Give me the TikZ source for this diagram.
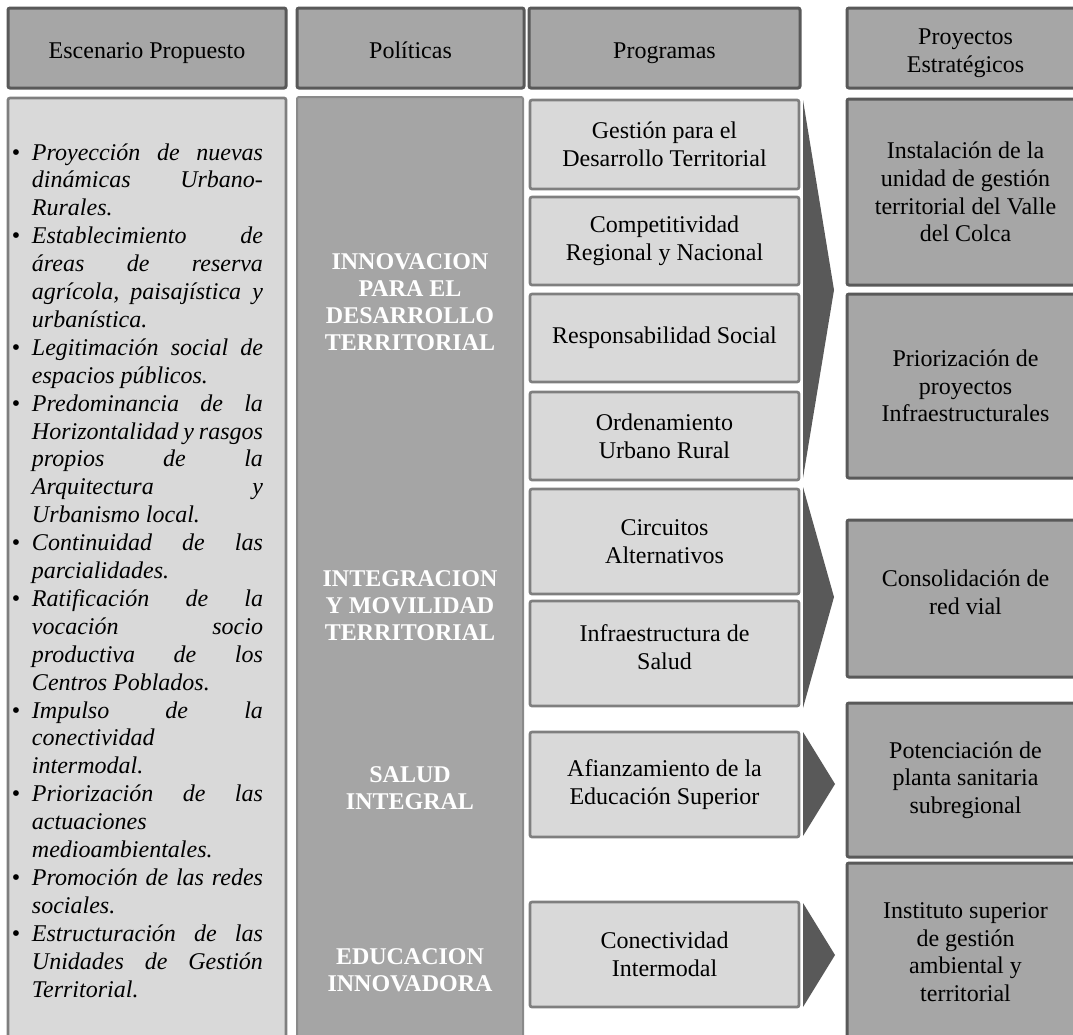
\documentclass[tikz,border=0pt]{standalone}
\usepackage{fontspec}
\setmainfont{Liberation Serif}
\definecolor{hdrfill}{HTML}{A6A6A6}
\definecolor{hdrline}{HTML}{595959}
\definecolor{lightfill}{HTML}{D9D9D9}
\definecolor{lightline}{HTML}{7F7F7F}
\definecolor{polfill}{HTML}{A5A5A5}
\definecolor{polline}{HTML}{8A8A8A}
\definecolor{chevfill}{HTML}{595959}
% one justified line of a bullet list: bullet line and continuation line
\newcommand\bulline[1]{\hbox to 251pt{\hbox to 20pt{\upshape\textbullet\hss}\hbox to 231pt{#1}}}
\newcommand\contline[1]{\hbox to 251pt{\hskip 20pt\hbox to 231pt{#1}}}
\begin{document}
\begin{tikzpicture}[x=1pt,y=-1pt,
  every node/.style={inner sep=0pt, outer sep=0pt},
  txt/.style={font=\fontsize{24pt}{27.6pt}\selectfont, align=center},
  hdr/.style={txt, draw=hdrline, fill=hdrfill, line width=3pt, rounded corners=2pt, minimum height=80pt},
  oneline/.style={text height=22.5pt, text depth=2pt},
  prog/.style={txt, draw=lightline, fill=lightfill, line width=2.7pt, rounded corners=2pt, minimum width=269pt},
  proj/.style={txt, draw=hdrline, fill=hdrfill, line width=3pt, rounded corners=2pt, minimum width=237pt},
  escbox/.style={draw=lightline, fill=lightfill, line width=2.7pt, rounded corners=2pt},
  polbox/.style={draw=polline, fill=polfill, line width=2pt, rounded corners=2pt},
  poltxt/.style={txt, text=white, font=\fontsize{24pt}{27pt}\selectfont\bfseries},
  chev/.style={fill=chevfill}
]
\path[use as bounding box, clip] (0,0) rectangle (1073,1034);

% column headers
\node[hdr, oneline, minimum width=278pt] (h1) at (147,48) {Escenario Propuesto};
\node[hdr, oneline, minimum width=227pt] (h2) at (410.5,48) {Políticas};
\node[hdr, oneline, minimum width=271pt] (h3) at (664.5,48) {Programas};
\node[hdr, minimum width=237pt,
  label={[txt, yshift=-5.5pt, name=h4text]center:{Proyectos\\Estratégicos}}] (h4) at (965.5,48) {};

% proposed scenario
\node[escbox, minimum width=278pt, minimum height=947pt] (esc) at (147,571.5) {};
\node[anchor=base west, font=\fontsize{24pt}{27.9pt}\selectfont\itshape] (esctxt) at (12,160) {\vtop{%
\bulline{Proyección\hfill de\hfill nuevas}
\contline{dinámicas\hfill Urbano-}
\contline{Rurales.\hfil}
\bulline{Establecimiento\hfill de}
\contline{áreas\hfill de\hfill reserva}
\contline{agrícola,\hfill paisajística\hfill y}
\contline{urbanística.\hfil}
\bulline{Legitimación\hfill social\hfill de}
\contline{espacios públicos.\hfil}
\bulline{Predominancia\hfill de\hfill la}
\contline{Horizontalidad\hfill y\hfill rasgos}
\contline{propios\hfill de\hfill la}
\contline{Arquitectura\hfill y}
\contline{Urbanismo local.\hfil}
\bulline{Continuidad\hfill de\hfill las}
\contline{parcialidades.\hfil}
\bulline{Ratificación\hfill de\hfill la}
\contline{vocación\hfill socio}
\contline{productiva\hfill de\hfill los}
\contline{Centros Poblados.\hfil}
\bulline{Impulso\hfill de\hfill la}
\contline{conectividad\hfil}
\contline{intermodal.\hfil}
\bulline{Priorización\hfill de\hfill las}
\contline{actuaciones\hfil}
\contline{medioambientales.\hfil}
\bulline{Promoción\hfill de\hfill las\hfill redes}
\contline{sociales.\hfil}
\bulline{Estructuración\hfill de\hfill las}
\contline{Unidades\hfill de\hfill Gestión}
\contline{Territorial.\hfil}}};

% policies
\node[polbox, minimum width=226pt, minimum height=948pt] (pol) at (410,571) {};
\node[poltxt] (pol1) at (410,302) {INNOVACION\\PARA EL\\DESARROLLO\\TERRITORIAL};
\node[poltxt] (pol2) at (410,606) {INTEGRACION\\Y MOVILIDAD\\TERRITORIAL};
\node[poltxt] (pol3) at (410,788) {SALUD\\INTEGRAL};
\node[poltxt] (pol4) at (410,970) {EDUCACION\\INNOVADORA};

% arrows from programs to projects
\fill[chev] (803,100) -- (834,290) -- (803,478) -- cycle;
\fill[chev] (803,487) -- (834,597) -- (803,708) -- cycle;
\fill[chev] (803,732) -- (835,784) -- (803,836) -- cycle;
\fill[chev] (803,903) -- (835,955) -- (803,1007) -- cycle;

% programs
\node[prog, minimum height=89pt] (p1) at (664.5,144.5) {Gestión para el\\Desarrollo Territorial};
\node[prog, minimum height=88pt] (p2) at (664.5,241) {Competitividad\\Regional y Nacional};
\node[prog, minimum height=88pt] (p3) at (664.5,338) {Responsabilidad Social};
\node[prog, minimum height=88pt] (p4) at (664.5,436) {Ordenamiento\\Urbano Rural};
\node[prog, minimum height=105pt] (p5) at (664.5,541.5) {Circuitos\\Alternativos};
\node[prog, minimum height=105pt,
  label={[txt, yshift=6.5pt, name=p6text]center:{Infraestructura de\\Salud}}] (p6) at (664.5,653.5) {};
\node[prog, minimum height=105pt] (p7) at (664.5,784.5) {Afianzamiento de la\\Educación Superior};
\node[prog, minimum height=105pt] (p8) at (664.5,954.5) {Conectividad\\Intermodal};

% strategic projects
\node[proj, minimum height=186pt] (s1) at (965.5,192) {Instalación de la\\unidad de gestión\\territorial del Valle\\del Colca};
\node[proj, minimum height=184pt] (s2) at (965.5,386) {Priorización de\\proyectos\\Infraestructurales};
\node[proj, minimum height=157pt,
  label={[txt, yshift=6.5pt, name=s3text]center:{Consolidación de\\red vial}}] (s3) at (965.5,598.5) {};
\node[proj, minimum height=154pt] (s4) at (965.5,780) {Potenciación de\\planta sanitaria\\subregional};
\node[proj, minimum height=178pt] (s5) at (965.5,952) {Instituto superior\\de gestión\\ambiental y\\territorial};
\end{tikzpicture}
\end{document}
